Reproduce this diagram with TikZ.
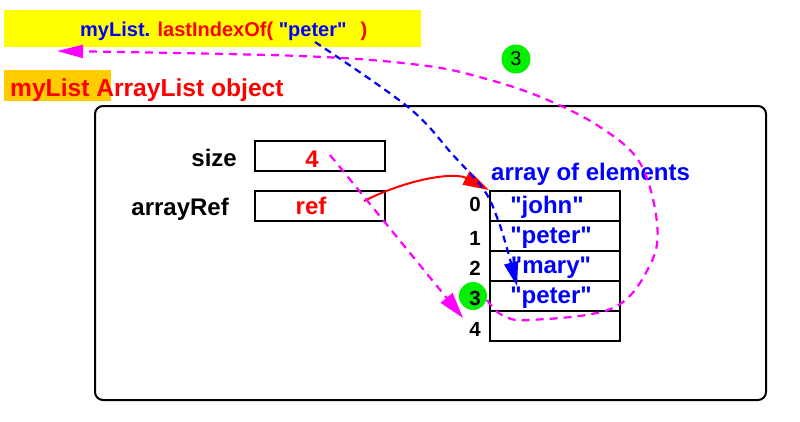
\documentclass[tikz,border=0pt]{standalone}
\usepackage{fontspec}
\setmainfont{Liberation Sans}[Ligatures=TeXOff]
\usetikzlibrary{arrows.meta}
\definecolor{yel}{RGB}{255,255,0}
\definecolor{org}{RGB}{255,204,0}
\definecolor{grn}{RGB}{0,240,0}
\definecolor{mag}{RGB}{255,0,255}
\definecolor{blu}{RGB}{0,0,255}
\definecolor{rd}{RGB}{255,0,0}
\begin{document}
\begin{tikzpicture}[x=1pt,y=-1pt,
  big/.style={inner sep=0pt, font=\bfseries\fontsize{24}{28}\selectfont},
  mid/.style={inner sep=0pt, font=\bfseries\fontsize{20}{24}\selectfont},
  idx/.style={inner sep=0pt, anchor=base, font=\bfseries\fontsize{20.5}{24}\selectfont},
  cellbox/.style={draw, line width=2pt, minimum width=130pt, minimum height=30pt, inner sep=0pt},
  elem/.style={big, anchor=base, text=blu},
  magdash/.style={mag, line width=2.2pt, dash pattern=on 8pt off 6pt},
  bigtip/.style={-{Triangle[length=26pt,width=15pt]}}]
\useasboundingbox (0,0) rectangle (800,421);
% banner
\fill[yel] (4,10) rectangle (421,47);
\node[mid, anchor=base west] (call) at (80,36) {\textcolor{blu}{myList.} \textcolor{rd}{lastIndexOf(} \textcolor{blu}{"peter"}\hspace{14pt}\textcolor{rd}{)}};
% object label
\fill[org] (4,70) rectangle (111,101);
\node[big, anchor=base west, text=rd, font=\bfseries\fontsize{24.6}{28}\selectfont] (objlabel) at (10,96) {myList ArrayList object};
% outer box
\draw[line width=2pt, rounded corners=8pt] (95,106) rectangle (766,400);
% fields
\node[big, anchor=base east] (sizelbl) at (237,166) {size};
\node[cellbox] (sizebox) at (320,156) {};
\node[big, anchor=base, text=rd] (sizeval) at (312,167) {4};
\node[big, anchor=base east] (reflbl) at (229,215) {arrayRef};
\node[cellbox] (refbox) at (320,206) {};
\node[big, anchor=base, text=rd] (refval) at (311,214) {ref};
% array
\node[big, anchor=base west, text=blu] (arrlbl) at (491,180) {array of elements};
\foreach \k in {0,...,4} {\node[cellbox] (cell\k) at (555,{206+30*\k}) {};}
\node[elem] (e0) at (547,213) {"john"};
\node[elem] (e1) at (551,243) {"peter"};
\node[elem] (e2) at (551,273) {"mary"};
\node[elem] (e3) at (551,303) {"peter"};
% green markers
\node[circle, fill=grn, minimum size=28pt, inner sep=0pt] (g3) at (473,296) {};
\node[circle, fill=grn, minimum size=29pt, inner sep=0pt, font=\fontsize{20}{22}\selectfont] (top3) at (516,59) {3};
% indices
\node[idx] (i0) at (475,211) {0};
\node[idx] (i1) at (475,245) {1};
\node[idx] (i2) at (475,275) {2};
\node[idx] (i3) at (475,305) {3};
\node[idx] (i4) at (475,336) {4};
% connector end points
\coordinate (rs) at (364,201);
\coordinate (ms) at (330,155);
\coordinate (m4) at (463,318);
\coordinate (bs) at (315,42);
\coordinate (be) at (517,286);
\coordinate (ls) at (487,300);
\coordinate (callend) at (57,51);
% red reference arrow
\draw[rd, line width=2pt, bigtip] (rs) .. controls (410,178) and (455,172) .. (cell0.north west);
% magenta size arrow
\draw[magdash, bigtip] (ms) -- (m4);
% blue search arrow
\draw[blu, line width=2.2pt, dash pattern=on 7pt off 5pt, -{Triangle[length=24pt,width=14pt]}]
  plot[smooth, tension=0.6] coordinates {(bs) (408,107) (453,155) (484,190) (498,220) (508,252) (be)};
% magenta return arrow
\draw[magdash, -{Triangle[length=26pt,width=13pt]}]
  plot[smooth, tension=0.6] coordinates {(ls) (502,315) (530,320) (613,308) (650,265) (657,223) (640,163) (600,127) (543,98) (483,78) (420,65) (300,56) (callend)};
\end{tikzpicture}
\end{document}
